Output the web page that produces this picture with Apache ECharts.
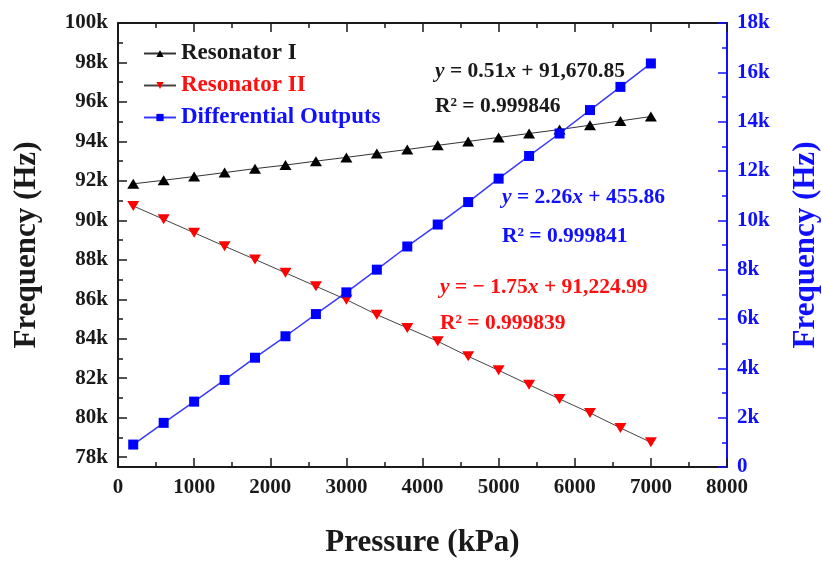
<!DOCTYPE html>
<html>
<head>
<meta charset="utf-8">
<script src="https://cdn.jsdelivr.net/npm/echarts@6/dist/echarts.min.js"></script>
<style>
html,body{margin:0;padding:0;background:#fff;}
#chart{width:822px;height:561px;}
</style>
</head>
<body>
<div id="chart"></div>
<script>
// ---- data ----
var pressure = [200, 600, 1000, 1400, 1800, 2200, 2600, 3000, 3400, 3800, 4200, 4600, 5000, 5400, 5800, 6200, 6600, 7000];
var resonator1 = [91850, 92030, 92220, 92420, 92620, 92800, 93000, 93190, 93390, 93590, 93800, 94000, 94200, 94400, 94600, 94820, 95040, 95260];
var resonator2 = [90730, 90050, 89370, 88690, 88020, 87340, 86660, 85980, 85220, 84550, 83870, 83110, 82400, 81670, 80950, 80240, 79480, 78750];
var differential = [910, 1790, 2650, 3530, 4430, 5300, 6200, 7080, 8000, 8940, 9830, 10740, 11690, 12610, 13520, 14470, 15410, 16360];
var leftMajorTicks = [78000, 80000, 82000, 84000, 86000, 88000, 90000, 92000, 94000, 96000, 98000, 100000];
var leftMinorTicks = [79000, 81000, 83000, 85000, 87000, 89000, 91000, 93000, 95000, 97000, 99000];
var seriesNames = ['Resonator I', 'Resonator II', 'Differential Outputs'];
var eqTexts = [
  ['{i|y} = 0.51{i|x} + 91,670.85', 'R\u00B2 = 0.999846'],
  ['{i|y} = 2.26{i|x} + 455.86', 'R\u00B2 = 0.999841'],
  ['{i|y} = \u2212 1.75{i|x} + 91,224.99', 'R\u00B2 = 0.999839']
];

function pairs(xs, ys){ return xs.map(function(x,i){ return [x, ys[i]]; }); }

var FONT = 'Liberation Serif';
var BLACK = '#1a1a1a';
var BLUE = '#1010ff';
var RED = '#ff1010';
var EQ_SIZE = 21.5;

var chart = echarts.init(document.getElementById('chart'), null, {renderer:'canvas'});

function eqGraphic(txt, left, top, color){
  return {
    type:'text', left:left, top:top, z:100,
    style:{
      text: txt,
      fill: color,
      font: 'bold ' + EQ_SIZE + 'px "' + FONT + '"',
      rich:{ i:{ fontStyle:'italic', fontWeight:'bold', fontSize:EQ_SIZE, fontFamily:FONT, fill:color } }
    }
  };
}

var option = {
  animation:false,
  backgroundColor:'#fff',
  grid:{left:118, right:95, top:23, bottom:94, containLabel:false, outerBoundsMode:'none'},
  legend:{
    orient:'vertical', left:138, top:37, itemWidth:32, itemHeight:9, itemGap:9,
    textStyle:{fontFamily:FONT, fontWeight:'bold', fontSize:23},
    data:[
      {name:seriesNames[0], textStyle:{color:BLACK}},
      {name:seriesNames[1], textStyle:{color:RED}},
      {name:seriesNames[2], textStyle:{color:BLUE}}
    ]
  },
  xAxis:[
    {
      type:'value', min:0, max:8000, interval:1000, position:'bottom',
      name:'Pressure (kPa)', nameLocation:'middle', nameGap:60,
      nameTextStyle:{fontFamily:FONT, fontWeight:'bold', fontSize:31, color:BLACK},
      axisLine:{show:true, onZero:false, lineStyle:{color:BLACK, width:2}},
      axisTick:{show:true, inside:true, length:9, lineStyle:{color:BLACK, width:1.5}},
      minorTick:{show:true, splitNumber:2, length:5, lineStyle:{color:BLACK, width:1.5}},
      splitLine:{show:false},
      axisLabel:{margin:10, fontFamily:FONT, fontWeight:'bold', fontSize:21, color:BLACK,
        formatter:function(v){ return String(v); }}
    },
    {
      type:'value', min:0, max:8000, interval:1000, position:'top',
      axisLine:{show:true, onZero:false, lineStyle:{color:BLACK, width:2}},
      axisTick:{show:true, inside:true, length:9, lineStyle:{color:BLACK, width:1.5}},
      minorTick:{show:true, splitNumber:2, length:5, lineStyle:{color:BLACK, width:1.5}},
      splitLine:{show:false},
      axisLabel:{show:false}
    }
  ],
  yAxis:[
    {
      type:'value', min:77500, max:100000, position:'left',
      name:'Frequency (Hz)', nameLocation:'middle', nameGap:76,
      nameTextStyle:{fontFamily:FONT, fontWeight:'bold', fontSize:31, color:BLACK},
      axisLine:{show:true, onZero:false, lineStyle:{color:BLACK, width:2}},
      axisTick:{show:true, inside:true, length:9, customValues:leftMajorTicks, lineStyle:{color:BLACK, width:1.5}},
      splitLine:{show:false},
      axisLabel:{margin:10, customValues:leftMajorTicks, fontFamily:FONT, fontWeight:'bold', fontSize:21, color:BLACK,
        formatter:function(v){ return (v/1000) + 'k'; }}
    },
    {
      type:'value', min:0, max:18000, interval:2000, position:'right',
      name:'Frequency (Hz)', nameLocation:'middle', nameGap:63,
      nameTextStyle:{fontFamily:FONT, fontWeight:'bold', fontSize:31, color:BLUE},
      axisLine:{show:true, onZero:false, lineStyle:{color:BLUE, width:2}},
      axisTick:{show:true, inside:true, length:9, lineStyle:{color:BLUE, width:1.5}},
      minorTick:{show:true, splitNumber:2, length:5, lineStyle:{color:BLUE, width:1.5}},
      splitLine:{show:false},
      axisLabel:{margin:10, fontFamily:FONT, fontWeight:'bold', fontSize:21, color:BLUE,
        formatter:function(v){ return v === 0 ? '0' : (v/1000) + 'k'; }}
    },
    {
      type:'value', min:77500, max:100000, position:'left',
      axisLine:{show:false},
      axisTick:{show:true, inside:true, length:5, customValues:leftMinorTicks, lineStyle:{color:BLACK, width:1.5}},
      splitLine:{show:false},
      axisLabel:{show:false}
    }
  ],
  series:[
    {
      name:seriesNames[0], type:'line', xAxisIndex:0, yAxisIndex:0,
      data:pairs(pressure, resonator1),
      symbol:'triangle', symbolSize:[12,10],
      itemStyle:{color:'#000'},
      lineStyle:{color:'#333', width:1}
    },
    {
      name:seriesNames[1], type:'line', xAxisIndex:0, yAxisIndex:0,
      data:pairs(pressure, resonator2),
      symbol:'triangle', symbolRotate:180, symbolSize:[12,10],
      itemStyle:{color:'#ff0000'},
      lineStyle:{color:'#444', width:1}
    },
    {
      name:seriesNames[2], type:'line', xAxisIndex:0, yAxisIndex:1,
      data:pairs(pressure, differential),
      symbol:'rect', symbolSize:10,
      itemStyle:{color:'#0000ff'},
      lineStyle:{color:'#3a3aff', width:1.5}
    }
  ],
  graphic:[
    eqGraphic(eqTexts[0][0], 435, 60, BLACK),
    eqGraphic(eqTexts[0][1], 435, 95, BLACK),
    eqGraphic(eqTexts[1][0], 502, 186, BLUE),
    eqGraphic(eqTexts[1][1], 502, 225, BLUE),
    eqGraphic(eqTexts[2][0], 440, 276, RED),
    eqGraphic(eqTexts[2][1], 440, 312, RED)
  ]
};
chart.setOption(option);
</script>
</body>
</html>
